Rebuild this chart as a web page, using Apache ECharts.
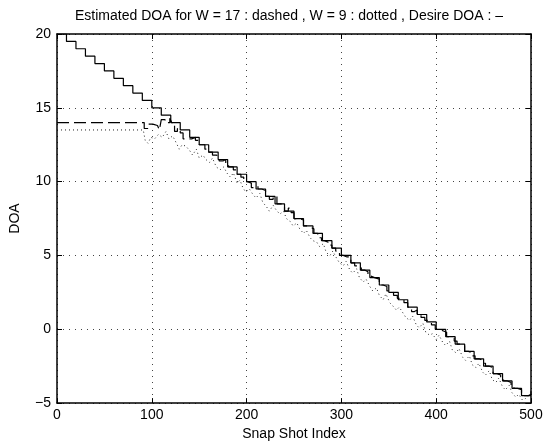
<!DOCTYPE html>
<html>
<head>
<meta charset="utf-8">
<script src="https://cdn.jsdelivr.net/npm/echarts@6/dist/echarts.min.js"></script>
<style>
    html, body { margin: 0; padding: 0; background: #fff; }
    #doachart { width: 547px; height: 446px; }
</style>
</head>
<body>
<div id="doachart"></div>
<script>
// desired DOA : staircase, 0.5 deg every 10 snapshots
var desiredDoa = [
    [0, 20], [10, 19.5], [20, 19], [30, 18.5], [40, 18], [50, 17.5], [60, 17], [70, 16.5], [80, 16], [90, 15.5],
    [100, 15], [110, 14.5], [120, 14], [130, 13.5], [140, 13], [150, 12.5], [160, 12], [170, 11.5], [180, 11], [190, 10.5],
    [200, 10], [210, 9.5], [220, 9], [230, 8.5], [240, 8], [250, 7.5], [260, 7], [270, 6.5], [280, 6], [290, 5.5],
    [300, 5], [310, 4.5], [320, 4], [330, 3.5], [340, 3], [350, 2.5], [360, 2], [370, 1.5], [380, 1], [390, 0.5],
    [400, 0], [410, -0.5], [420, -1], [430, -1.5], [440, -2], [450, -2.5], [460, -3], [470, -3.5], [480, -4], [490, -4.5],
    [500, -4.5]
];

// estimate with W = 17 (dashed)
var estW17 = [
    [0, 14.0], [86, 14.0], [92, 13.6], [96, 13.9], [101, 13.8], [106, 13.9], [108, 13.5], [110, 14.2], [114, 14.0], [119, 14.3],
    [121, 14.0], [124, 13.4], [127, 13.6], [130, 13.3], [133, 12.9], [142, 13.0], [146, 12.8], [150, 12.5], [156, 12.2], [160, 12.0],
    [164, 11.8], [168, 11.7], [171, 11.4], [175, 11.5], [178, 11.2], [181, 11.0], [186, 10.8], [190, 10.5], [194, 10.3], [197, 10.0],
    [201, 9.9], [205, 9.6], [209, 9.7], [212, 9.5], [216, 9.4], [220, 9.0], [224, 8.8], [228, 9.0], [232, 8.5], [236, 8.4],
    [240, 8.0], [244, 8.2], [247, 7.9], [250, 7.5], [255, 7.4], [260, 7.0], [264, 6.9], [268, 6.8], [271, 6.5], [275, 6.2],
    [279, 6.0], [282, 5.9], [286, 5.7], [290, 5.5], [294, 5.3], [298, 5.0], [302, 4.9], [306, 4.9], [310, 4.5], [314, 4.3],
    [318, 4.2], [321, 4.0], [325, 3.9], [328, 3.6], [331, 3.5], [335, 3.4], [340, 3.0], [344, 2.9], [348, 2.6], [351, 2.5],
    [355, 2.3], [359, 2.1], [362, 2.0], [366, 1.8], [370, 1.5], [374, 1.2], [377, 1.3], [380, 1.0], [384, 0.8], [388, 0.6],
    [391, 0.5], [395, 0.3], [399, 0.0], [403, -0.1], [407, -0.2], [411, -0.5], [415, -0.6], [419, -0.8], [422, -1.0], [426, -1.1],
    [430, -1.5], [434, -1.6], [438, -1.8], [441, -2.0], [445, -2.1], [449, -2.3], [452, -2.5], [456, -2.6], [460, -3.0], [464, -3.1],
    [468, -3.3], [471, -3.5], [475, -3.6], [479, -3.8], [482, -4.0], [486, -4.1], [490, -4.3], [493, -4.5], [497, -4.4], [500, -4.2]
];

// estimate with W = 9 (dotted)
var estW9 = [
    [0, 13.5], [91, 13.5], [93, 12.8], [96, 12.6], [99, 13.0], [103, 12.9], [107, 13.2], [111, 13.0], [115, 13.4], [118, 12.9],
    [122, 13.1], [126, 12.6], [129, 12.2], [132, 12.5], [136, 12.4], [140, 12.1], [143, 11.8], [147, 12.2], [150, 11.6], [154, 11.8],
    [157, 11.5], [161, 11.3], [164, 11.6], [168, 11.0], [172, 10.8], [176, 11.0], [179, 10.6], [183, 10.3], [186, 10.6], [190, 9.9],
    [193, 10.1], [196, 9.6], [199, 9.3], [203, 9.5], [207, 9.1], [210, 8.9], [214, 9.2], [217, 8.6], [221, 8.3], [224, 8.0],
    [228, 8.4], [231, 8.1], [235, 7.8], [239, 8.0], [242, 7.5], [246, 7.3], [249, 7.0], [253, 7.2], [256, 6.8], [260, 6.5],
    [263, 6.7], [267, 6.2], [270, 6.0], [274, 5.9], [277, 5.6], [281, 5.8], [284, 5.2], [288, 5.0], [291, 5.3], [295, 4.8],
    [298, 4.5], [302, 4.3], [305, 4.6], [309, 4.0], [312, 3.8], [316, 4.1], [319, 3.5], [323, 3.2], [326, 3.4], [330, 2.9],
    [333, 2.6], [337, 2.8], [340, 2.3], [344, 2.0], [347, 2.4], [351, 1.8], [354, 1.6], [358, 1.3], [361, 1.5], [365, 1.1],
    [368, 0.8], [372, 0.6], [375, 0.9], [379, 0.3], [382, 0.1], [386, 0.4], [389, -0.2], [393, -0.4], [396, -0.3], [400, -0.7],
    [403, -0.4], [407, -0.9], [410, -1.1], [414, -0.8], [417, -1.4], [421, -1.6], [424, -1.3], [428, -1.9], [431, -2.1], [435, -1.8],
    [438, -2.4], [442, -2.6], [445, -2.3], [449, -2.9], [452, -3.1], [456, -2.8], [459, -3.4], [463, -3.6], [466, -3.3], [470, -3.9],
    [473, -4.1], [477, -3.8], [480, -4.3], [484, -4.6], [487, -4.4], [491, -4.8], [494, -4.7], [497, -4.5], [500, -4.6]
];

var xTicks = [0, 100, 200, 300, 400, 500];
var yTicks = [-5, 0, 5, 10, 15, 20];

var chartDom = document.getElementById('doachart');
var myChart = echarts.init(chartDom);
var font = 'Liberation Sans';

var gridDots = {show: true, lineStyle: {color: '#444', width: 1, type: [1, 5]}};
var frameLine = {show: true, onZero: false, lineStyle: {color: '#000', width: 1.5}};
var innerTick = {show: true, inside: true, length: 5, lineStyle: {color: '#000'}};

var option = {
    animation: false,
    title: {
        text: 'Estimated DOA for W = 17 : dashed , W = 9 : dotted , Desire DOA : \u2013',
        left: 284,
        top: 4,
        textAlign: 'center',
        textStyle: {fontFamily: font, fontSize: 14, fontWeight: 'normal', color: '#000'}
    },
    grid: {left: 57, right: 16, top: 34, bottom: 37},
    xAxis: [
        {
            type: 'value', min: xTicks[0], max: xTicks[xTicks.length - 1], interval: 100,
            name: 'Snap Shot Index', nameLocation: 'middle', nameGap: 22,
            nameTextStyle: {fontFamily: font, fontSize: 14, color: '#000'},
            axisLine: frameLine, axisTick: innerTick,
            axisLabel: {fontFamily: font, fontSize: 14, color: '#000', margin: 5},
            splitLine: gridDots
        },
        {
            type: 'value', position: 'top', min: xTicks[0], max: xTicks[xTicks.length - 1], interval: 100,
            axisLine: frameLine, axisTick: innerTick, axisLabel: {show: false}, splitLine: {show: false}
        }
    ],
    yAxis: [
        {
            type: 'value', min: yTicks[0], max: yTicks[yTicks.length - 1], interval: 5,
            name: 'DOA', nameLocation: 'middle', nameGap: 35, nameRotate: 90,
            nameTextStyle: {fontFamily: font, fontSize: 14, color: '#000'},
            axisLine: frameLine, axisTick: innerTick,
            axisLabel: {
                fontFamily: font, fontSize: 14, color: '#000', margin: 6,
                formatter: function (v) { return String(v).replace('-', '\u2212'); }
            },
            splitLine: gridDots
        },
        {
            type: 'value', position: 'right', min: yTicks[0], max: yTicks[yTicks.length - 1], interval: 5,
            axisLine: frameLine, axisTick: innerTick, axisLabel: {show: false}, splitLine: {show: false}
        }
    ],
    series: [
        {
            name: 'W = 9', type: 'line', data: estW9, showSymbol: false,
            lineStyle: {color: '#222', width: 1, type: [1, 3]}
        },
        {
            name: 'W = 17', type: 'line', step: 'end', data: estW17, showSymbol: false,
            lineStyle: {color: '#000', width: 1.2, type: [12, 5]}
        },
        {
            name: 'Desired', type: 'line', step: 'end', data: desiredDoa, showSymbol: false,
            lineStyle: {color: '#000', width: 1.2}
        }
    ]
};

option && myChart.setOption(option);
</script>
</body>
</html>
